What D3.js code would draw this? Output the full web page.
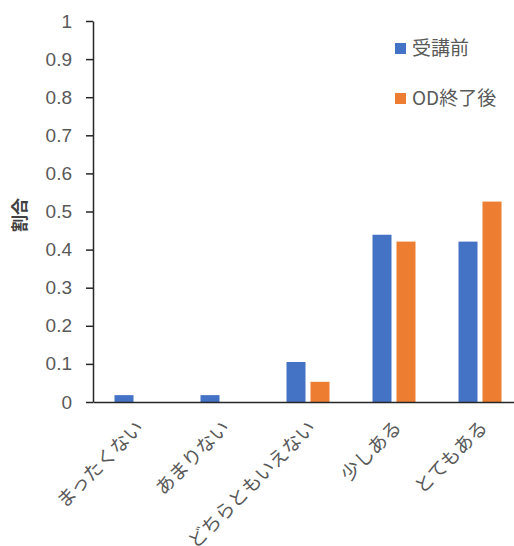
<!DOCTYPE html>
<html>
<head>
<meta charset="utf-8">
<script src="https://cdn.jsdelivr.net/npm/d3@7"></script>
<style>
  body { margin: 0; background: #fff; }
  svg { display: block; font-family: "Noto Sans CJK JP", "Noto Sans", sans-serif; }
</style>
</head>
<body>
<div id="chart"></div>
<script>
// data
const categories = ['まったくない', 'あまりない', 'どちらともいえない', '少しある', 'とてもある'];
const seriesNames = ['受講前', 'OD終了後'];
const before = [0.018, 0.018, 0.105, 0.439, 0.421];
const afterOD = [0, 0, 0.053, 0.421, 0.526];
const yTicks = [0, 0.1, 0.2, 0.3, 0.4, 0.5, 0.6, 0.7, 0.8, 0.9, 1];
const yTickLabels = ['0', '0.1', '0.2', '0.3', '0.4', '0.5', '0.6', '0.7', '0.8', '0.9', '1'];
const colors = ['#4472C4', '#ED7D31'];

const width = 514,
    height = 546,
    plotLeft = 93,
    plotRight = 523,
    plotTop = 21,
    plotBottom = 402;

const rows = categories.map((c, i) => ({cat: c, values: [before[i], afterOD[i]]}));

const x = d3.scaleBand()
    .domain(categories)
    .range([plotLeft, plotRight]);

const xInner = d3.scaleBand()
    .domain(seriesNames)
    .range([21.5, 64.5])
    .paddingInner(5 / 24);

const y = d3.scaleLinear()
    .domain([0, 1])
    .range([plotBottom, plotTop]);

const svg = d3.select('#chart')
    .append('svg')
    .attr('width', width)
    .attr('height', height);

// bars
svg.append('g')
    .selectAll('g')
    .data(rows)
    .join('g')
    .attr('transform', d => `translate(${x(d.cat)},0)`)
    .selectAll('rect')
    .data(d => d.values.map((v, i) => ({key: seriesNames[i], value: v, i})))
    .join('rect')
    .attr('x', d => xInner(d.key))
    .attr('width', xInner.bandwidth())
    .attr('y', d => y(d.value))
    .attr('height', d => y(0) - y(d.value))
    .attr('fill', d => colors[d.i]);

// y axis
const yAxis = svg.append('g')
    .attr('transform', `translate(${plotLeft},0)`)
    .call(d3.axisLeft(y)
        .tickValues(yTicks)
        .tickFormat((d, i) => yTickLabels[i])
        .tickSize(7)
        .tickSizeOuter(0)
        .tickPadding(14));
yAxis.select('.domain').attr('stroke', '#262626').attr('stroke-width', 1.5);
yAxis.selectAll('.tick line').attr('stroke', '#262626').attr('stroke-width', 1.5);
yAxis.selectAll('.tick text')
    .attr('fill', '#595959')
    .style('font-size', '19px');

// x axis
const xAxis = svg.append('g')
    .attr('transform', `translate(0,${plotBottom})`)
    .call(d3.axisBottom(x).tickSize(0).tickSizeOuter(0).tickFormat(''));
xAxis.select('.domain').attr('stroke', '#262626').attr('stroke-width', 1.5);

svg.append('g')
    .selectAll('text')
    .data(categories)
    .join('text')
    .attr('transform', d => `translate(${x(d) + x.bandwidth() / 2 + 4},${plotBottom + 22}) rotate(-45)`)
    .attr('text-anchor', 'end')
    .attr('dy', '0.35em')
    .attr('fill', '#595959')
    .style('font-size', '19px')
    .text(d => d);

// y axis title
svg.append('text')
    .attr('transform', `translate(26,215) rotate(-90)`)
    .attr('text-anchor', 'middle')
    .attr('fill', '#404040')
    .style('font-size', '17px')
    .style('font-weight', 'bold')
    .text('割合');

// legend
const legend = svg.append('g')
    .selectAll('g')
    .data(seriesNames)
    .join('g')
    .attr('transform', (d, i) => `translate(395,${43 + i * 50})`);
legend.append('rect')
    .attr('width', 11)
    .attr('height', 11)
    .attr('fill', (d, i) => colors[i]);
legend.append('text')
    .attr('x', 17)
    .attr('y', 5.5)
    .attr('dy', '0.35em')
    .attr('fill', '#595959')
    .style('font-size', '19px')
    .text(d => d);
</script>
</body>
</html>
